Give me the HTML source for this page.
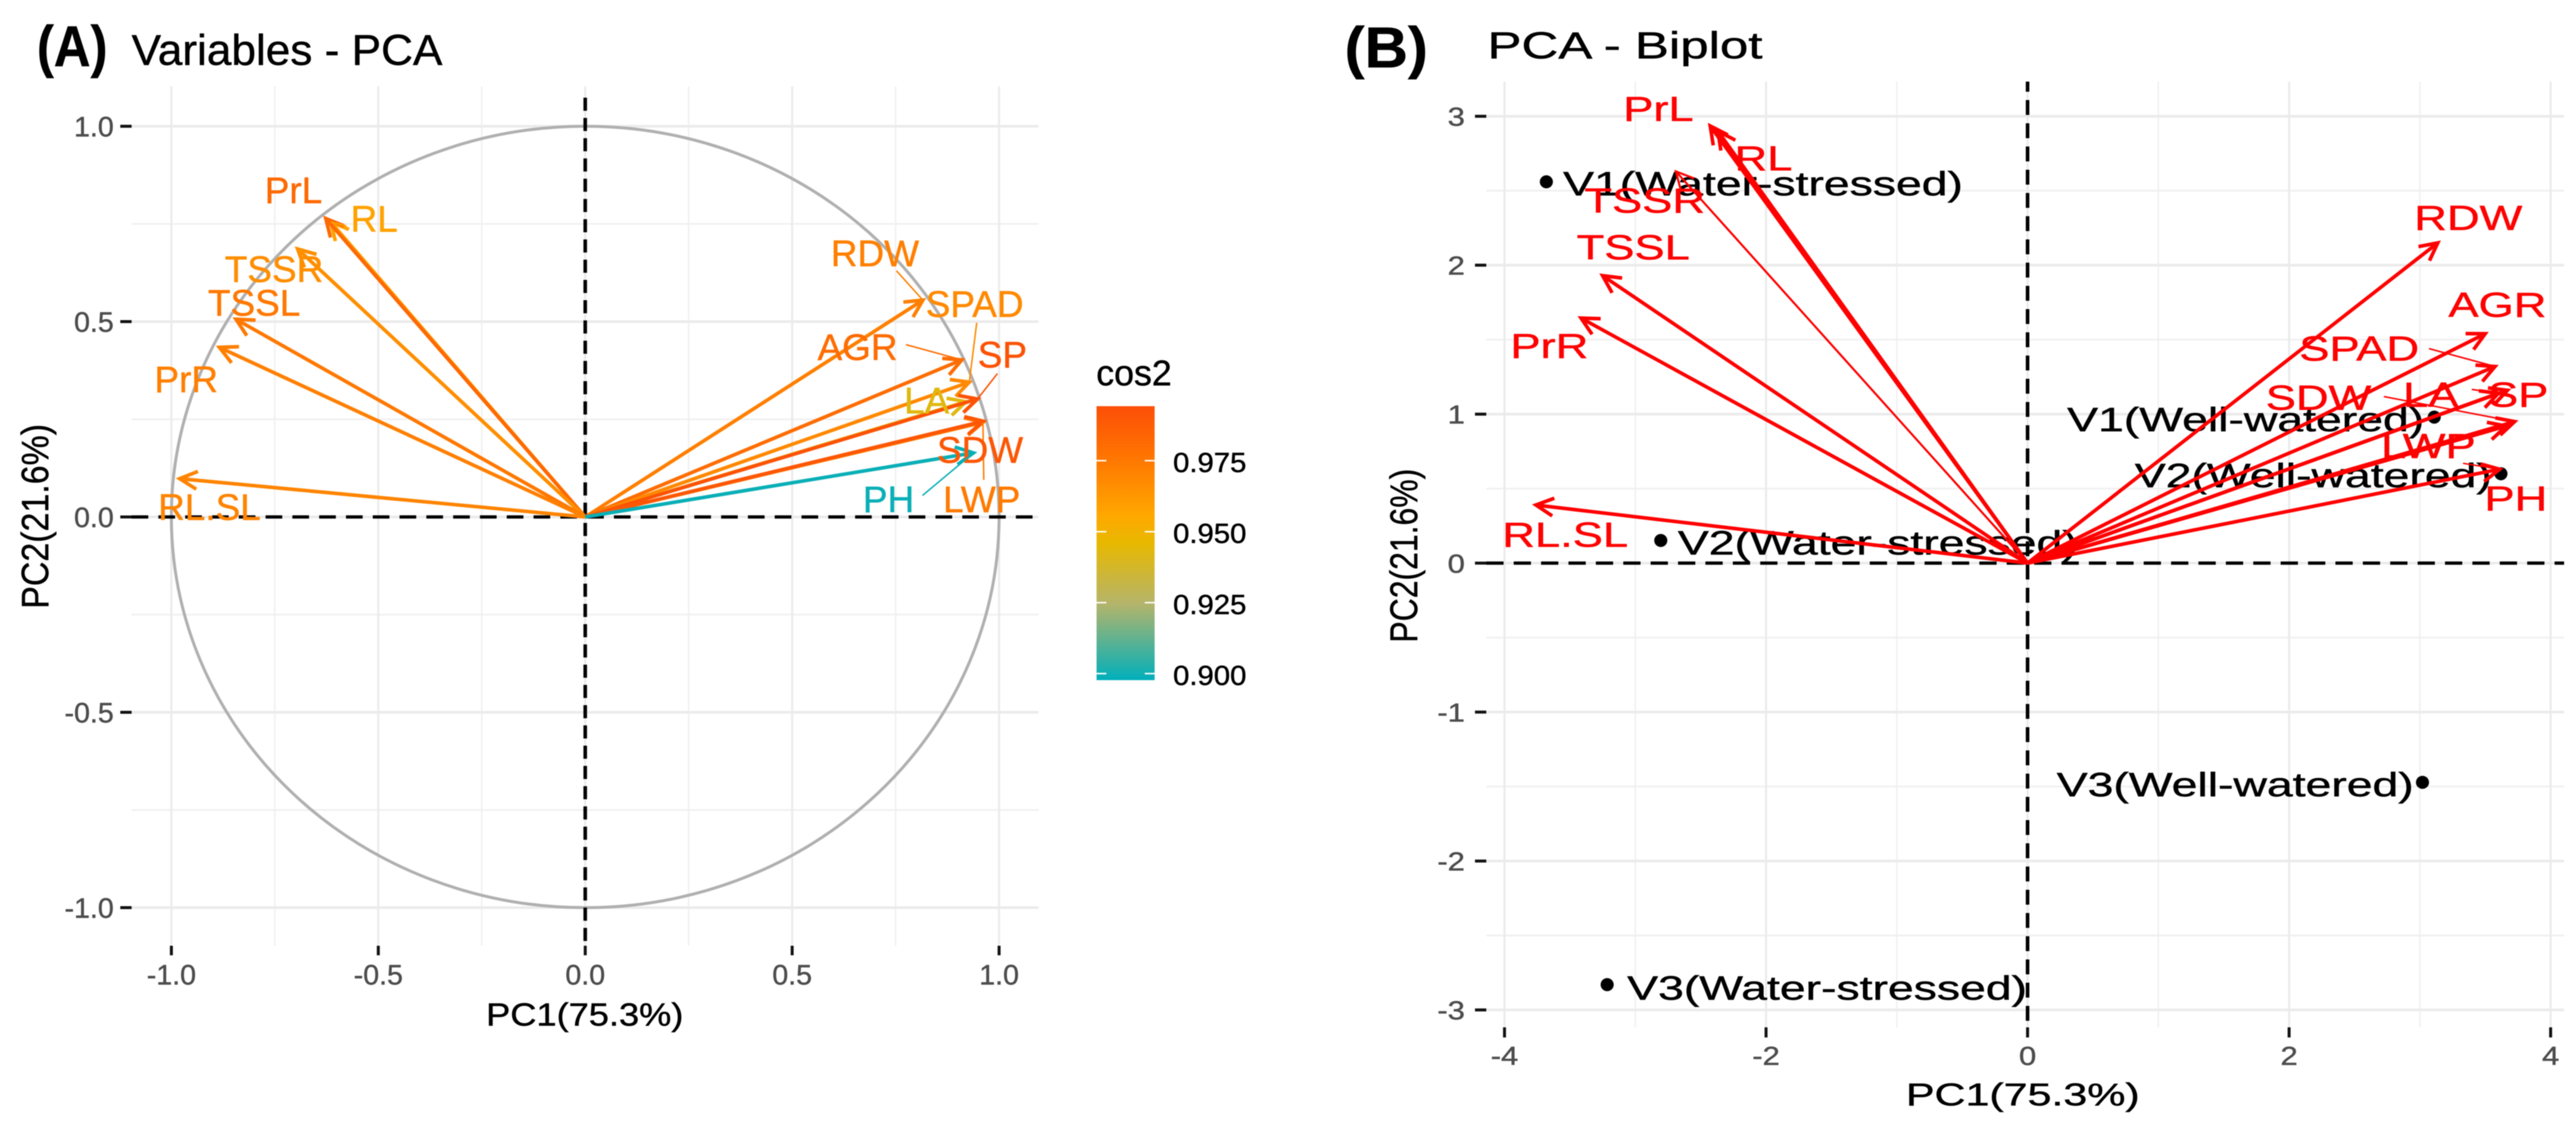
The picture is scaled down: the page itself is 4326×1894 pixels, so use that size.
<!DOCTYPE html>
<html lang="en">
<head>
<meta charset="utf-8">
<title>PCA variables and biplot</title>
<style>
  html, body { margin: 0; padding: 0; background: #fff; overflow: hidden; }
  svg { display: block; filter: blur(0.9px); }
  text { font-family: "Liberation Sans", sans-serif; }
</style>
</head>
<body>
<svg id="figure" xmlns="http://www.w3.org/2000/svg" width="4326" height="1894" viewBox="0 0 4326 1894">
  <defs>
    <linearGradient id="cosGrad" x1="0" y1="0" x2="0" y2="1">
      <stop offset="0" stop-color="#fc4e07"/>
      <stop offset="0.2" stop-color="#ff7800"/>
      <stop offset="0.4" stop-color="#ffa800"/>
      <stop offset="0.5" stop-color="#e7b800"/>
      <stop offset="0.72" stop-color="#b5b46a"/>
      <stop offset="1" stop-color="#00afbb"/>
    </linearGradient>
  </defs>
  <rect width="4326" height="1894" fill="#ffffff"/>
  <g id="panelA"></g>
  <g id="panelB"></g>
  <g id="legend"></g>
</svg>
<script>
// ---------- Shared variable names (draw order) ----------
const varNames = ['RL','PrL','TSSR','TSSL','PrR','RL.SL','RDW','AGR','SPAD','LA','SP','LWP','SDW','PH'];

// ---------- Panel A: variable loadings ----------
const pc1A = [-0.615,-0.627,-0.695,-0.844,-0.884,-0.980,0.816,0.910,0.928,0.920,0.948,0.961,0.962,0.938];
const pc2A = [0.755,0.764,0.686,0.506,0.434,0.098,0.555,0.402,0.345,0.295,0.302,0.242,0.245,0.164];
const cos2A = [0.958,0.982,0.966,0.975,0.972,0.970,0.972,0.980,0.968,0.943,0.992,0.974,0.990,0.899];
const labelXA = [-0.510,-0.705,-0.752,-0.800,-0.964,-0.908,0.700,0.658,0.941,0.825,1.008,0.958,0.954,0.733];
const labelYA = [0.730,0.803,0.601,0.515,0.319,-0.008,0.642,0.402,0.512,0.265,0.383,0.012,0.139,0.012];
const connXA = [-0.577,null,null,null,null,null,0.752,0.775,0.946,null,0.996,0.963,null,0.815];
const connYA = [0.745,null,null,null,null,null,0.630,0.441,0.497,null,0.367,0.095,null,0.055];

// ---------- Panel A axes ----------
const xMajorA = [-1,-0.5,0,0.5,1];
const xMinorA = [-0.75,-0.25,0.25,0.75];
const yMajorA = [-1,-0.5,0,0.5,1];
const yMinorA = [-0.75,-0.25,0.25,0.75];
const xTickLabelsA = ['-1.0','-0.5','0.0','0.5','1.0'];
const yTickLabelsA = ['-1.0','-0.5','0.0','0.5','1.0'];

// ---------- Panel B: biplot variables ----------
const pc1B = [-2.368,-2.427,-2.690,-3.250,-3.415,-3.760,3.137,3.500,3.575,3.600,3.670,3.660,3.725,3.610];
const pc2B = [2.900,2.935,2.630,1.930,1.645,0.390,2.150,1.540,1.320,1.140,1.160,0.920,0.950,0.630];
const labelXB = [-2.020,-2.823,-2.928,-3.016,-3.657,-3.536,3.370,3.593,2.536,3.083,3.752,3.065,2.225,3.734];
const labelYB = [2.637,2.969,2.353,2.039,1.377,0.110,2.237,1.653,1.359,1.050,1.050,0.706,1.030,0.354];
const connXB = [null,null,null,null,null,null,null,null,3.070,3.397,null,null,2.725,3.330];
const connYB = [null,null,null,null,null,null,null,null,1.440,1.166,null,null,1.118,0.670];

// ---------- Panel B: individuals ----------
const indNames = ['V1(Water-stressed)','V2(Water-stressed)','V3(Water-stressed)','V1(Well-watered)','V2(Well-watered)','V3(Well-watered)'];
const indPc1 = [-3.68,-2.805,-3.215,3.11,3.62,3.02];
const indPc2 = [2.56,0.152,-2.83,0.98,0.60,-1.472];
const indLabelX = [-3.552,-2.674,-3.062,0.303,0.820,0.223];
const indLabelY = [2.469,0.058,-2.930,0.886,0.510,-1.566];

// ---------- Panel B axes ----------
const xMajorB = [-4,-2,0,2,4];
const xMinorB = [-3,-1,1,3];
const yMajorB = [-3,-2,-1,0,1,2,3];
const yMinorB = [-2.5,-1.5,-0.5,0.5,1.5,2.5];
const xTickLabelsB = ['-4','-2','0','2','4'];
const yTickLabelsB = ['-3','-2','-1','0','1','2','3'];

// ---------- Legend ----------
const legendTicks = [0.900,0.925,0.950,0.975];
const legendTickLabels = ['0.900','0.925','0.950','0.975'];
const legendMin = 0.8977;
const legendMax = 0.9942;

// ---------- Axis functions ----------
const xA = v => 982.8 + v * 695;
const yA = v => 868 - v * 656;
const xB = v => 3405 + v * 219.6;
const yB = v => 945.5 - v * 250.1;
const yLegend = v => 682 + (legendMax - v) / (legendMax - legendMin) * 460;

const NS = 'http://www.w3.org/2000/svg';
function make(parent, tag, name, attrs) {
  const el = document.createElementNS(NS, tag);
  
  
  for (const k in attrs) el.setAttribute(k, attrs[k]);
  parent.appendChild(el);
  return el;
}
function line(parent, name, x1, y1, x2, y2, stroke, w, extra) {
  return make(parent, 'line', name, Object.assign({x1, y1, x2, y2, stroke, 'stroke-width': w}, extra || {}));
}
function label(parent, name, str, x, y, size, sx, anchor, fill, weight, rotate) {
  const t = make(parent, 'text', name, {
    transform: 'translate(' + x + ' ' + y + ')' + (rotate ? ' rotate(' + rotate + ')' : '') + ' scale(' + sx + ' 1)',
    'font-size': size, 'text-anchor': anchor, fill: fill, 'font-weight': weight || 'normal',
    stroke: fill, 'stroke-width': 0.7
  });
  t.textContent = str;
  return t;
}
function slug(s) { return s.toLowerCase().replace(/[^a-z0-9]+/g, '-').replace(/-$/, ''); }

// Colour scale matches the legend gradient
const colorStops = [[0.8977,[0,175,187]],[0.9247,[181,180,106]],[0.9460,[231,184,0]],[0.9556,[255,168,0]],[0.9749,[255,120,0]],[0.9942,[252,78,7]]];
function cosColor(v) {
  for (let i = 1; i < colorStops.length; i++) {
    if (v <= colorStops[i][0]) {
      const a = colorStops[i-1], b = colorStops[i];
      const f = Math.max(0, (v - a[0]) / (b[0] - a[0]));
      return 'rgb(' + a[1].map((c, k) => Math.round(c + (b[1][k] - c) * f)).join(',') + ')';
    }
  }
  return 'rgb(252,78,7)';
}

function grid(g, box, x, y, xMaj, xMin, yMaj, yMin) {
  xMin.forEach(v => line(g, 'grid-minor-x', x(v), box.t, x(v), box.b, '#f0f0f0', 2.5));
  yMin.forEach(v => line(g, 'grid-minor-y', box.l, y(v), box.r, y(v), '#f0f0f0', 3));
  xMaj.forEach(v => line(g, 'grid-major-x', x(v), box.t, x(v), box.b, '#ebebeb', 3.5));
  yMaj.forEach(v => line(g, 'grid-major-y', box.l, y(v), box.r, y(v), '#ebebeb', 4.5));
}
function ticks(g, box, x, y, xMaj, yMaj, xLabels, yLabels, size, sx, xBase, yRight, len) {
  xMaj.forEach((v, i) => {
    line(g, 'x-axis-tick', x(v), box.b, x(v), box.b + len, '#111', 5);
    label(g, 'x-tick-label', xLabels[i], x(v), xBase, size, sx, 'middle', '#4d4d4d');
  });
  yMaj.forEach((v, i) => {
    line(g, 'y-axis-tick', box.l - 19, y(v), box.l, y(v), '#111', 5);
    label(g, 'y-tick-label', yLabels[i], yRight, y(v) + size * 0.36, size, sx, 'end', '#4d4d4d');
  });
}
function arrow(g, name, x0, y0, x1, y1, color, w, len, angDeg) {
  const ang = Math.atan2(y1 - y0, x1 - x0), a = angDeg * Math.PI / 180;
  const bx1 = x1 - len * Math.cos(ang - a), by1 = y1 - len * Math.sin(ang - a);
  const bx2 = x1 - len * Math.cos(ang + a), by2 = y1 - len * Math.sin(ang + a);
  make(g, 'path', name, {
    d: 'M' + x0 + ' ' + y0 + 'L' + x1 + ' ' + y1 + 'M' + bx1 + ' ' + by1 + 'L' + x1 + ' ' + y1 + 'L' + bx2 + ' ' + by2,
    fill: 'none', stroke: color, 'stroke-width': w, 'stroke-linejoin': 'miter', 'stroke-linecap': 'butt'
  });
}

// ---------- Draw panel A ----------
(function () {
  const g = document.getElementById('panelA');
  const box = {l: 221, r: 1744, t: 145, b: 1588};
  label(g, 'panel-a-tag', '(A)', 62, 111, 97, 0.88, 'start', '#000', 'bold');
  label(g, 'panel-a-title', 'Variables - PCA', 221, 109, 72, 1.03, 'start', '#000');
  grid(g, box, xA, yA, xMajorA, xMinorA, yMajorA, yMinorA);
  ticks(g, box, xA, yA, xMajorA, yMajorA, xTickLabelsA, yTickLabelsA, 47, 1.02, 1653, 191, 16);
  label(g, 'x-axis-title', 'PC1(75.3%)', 982, 1722, 54, 1.126, 'middle', '#000');
  label(g, 'y-axis-title', 'PC2(21.6%)', 81, 867, 64, 0.89, 'middle', '#000', 'normal', -90);
  make(g, 'ellipse', 'correlation-circle', {cx: xA(0), cy: yA(0), rx: xA(1) - xA(0), ry: yA(0) - yA(1), fill: 'none', stroke: '#b0b0b0', 'stroke-width': 5});
  line(g, 'zero-line-horizontal', box.l, yA(0), box.r, yA(0), '#000', 5.5, {'stroke-dasharray': '28 17'});
  line(g, 'zero-line-vertical', xA(0), box.t + 19, xA(0), box.b, '#000', 6, {'stroke-dasharray': '22 12'});
  varNames.forEach((n, i) => {
    arrow(g, 'arrow-' + slug(n), xA(0), yA(0), xA(pc1A[i]), yA(pc2A[i]), cosColor(cos2A[i]), 6, 33, 27);
  });
  varNames.forEach((n, i) => {
    if (connXA[i] !== null) {
      line(g, 'connector-' + slug(n), xA(connXA[i]), yA(connYA[i]), xA(pc1A[i]), yA(pc2A[i]), cosColor(cos2A[i]), 2.5);
    }
    label(g, 'label-' + slug(n), n, xA(labelXA[i]), yA(labelYA[i]), 62, 1, 'middle', cosColor(cos2A[i]));
  });
})();

// ---------- Draw panel B ----------
(function () {
  const g = document.getElementById('panelB');
  const box = {l: 2496, r: 4306, t: 137, b: 1725};
  label(g, 'panel-b-tag', '(B)', 2258, 113, 97, 1.04, 'start', '#000', 'bold');
  label(g, 'panel-b-title', 'PCA - Biplot', 2498, 98, 63, 1.36, 'start', '#000');
  grid(g, box, xB, yB, xMajorB, xMinorB, yMajorB, yMinorB);
  ticks(g, box, xB, yB, xMajorB, yMajorB, xTickLabelsB, yTickLabelsB, 44, 1.18, 1788, 2460, 17);
  label(g, 'x-axis-title', 'PC1(75.3%)', 3397, 1856, 53, 1.36, 'middle', '#000');
  label(g, 'y-axis-title', 'PC2(21.6%)', 2380, 933, 65, 0.825, 'middle', '#000', 'normal', -90);
  line(g, 'zero-line-horizontal', box.l, yB(0), box.r, yB(0), '#000', 5.5, {'stroke-dasharray': '29 17'});
  line(g, 'zero-line-vertical', xB(0), box.t, xB(0), box.b, '#000', 6, {'stroke-dasharray': '25 14', 'stroke-dashoffset': '8'});
  indNames.forEach((n, i) => {
    make(g, 'circle', 'point-' + slug(n), {cx: xB(indPc1[i]), cy: yB(indPc2[i]), r: 11, fill: '#000'});
    label(g, 'point-label-' + slug(n), n, xB(indLabelX[i]), yB(indLabelY[i]), 57, 1.365, 'start', '#000');
  });
  varNames.forEach((n, i) => {
    const w = n === 'TSSR' ? 3.5 : 6;
    arrow(g, 'arrow-' + slug(n), xB(0), yB(0), xB(pc1B[i]), yB(pc2B[i]), '#ff0000', w, 33, 27);
  });
  varNames.forEach((n, i) => {
    if (connXB[i] !== null) {
      line(g, 'connector-' + slug(n), xB(connXB[i]), yB(connYB[i]), xB(pc1B[i]), yB(pc2B[i]), '#ff0000', 2.5);
    }
    label(g, 'label-' + slug(n), n, xB(labelXB[i]), yB(labelYB[i]), 58, 1.31, 'middle', '#ff0000');
  });
})();

// ---------- Draw legend ----------
(function () {
  const g = document.getElementById('legend');
  label(g, 'legend-title', 'cos2', 1841, 647, 60, 1, 'start', '#000');
  make(g, 'rect', 'legend-colorbar', {x: 1841.5, y: yLegend(legendMax), width: 97.5, height: yLegend(legendMin) - yLegend(legendMax), fill: 'url(#cosGrad)'});
  legendTicks.forEach((v, i) => {
    line(g, 'legend-tick-left', 1841.5, yLegend(v), 1858, yLegend(v), '#ffffff', 2.5);
    line(g, 'legend-tick-right', 1922.5, yLegend(v), 1939, yLegend(v), '#ffffff', 2.5);
    label(g, 'legend-tick-label', legendTickLabels[i], 1970, yLegend(v) + 19, 46, 1.07, 'start', '#000');
  });
})();
</script>
</body>
</html>
